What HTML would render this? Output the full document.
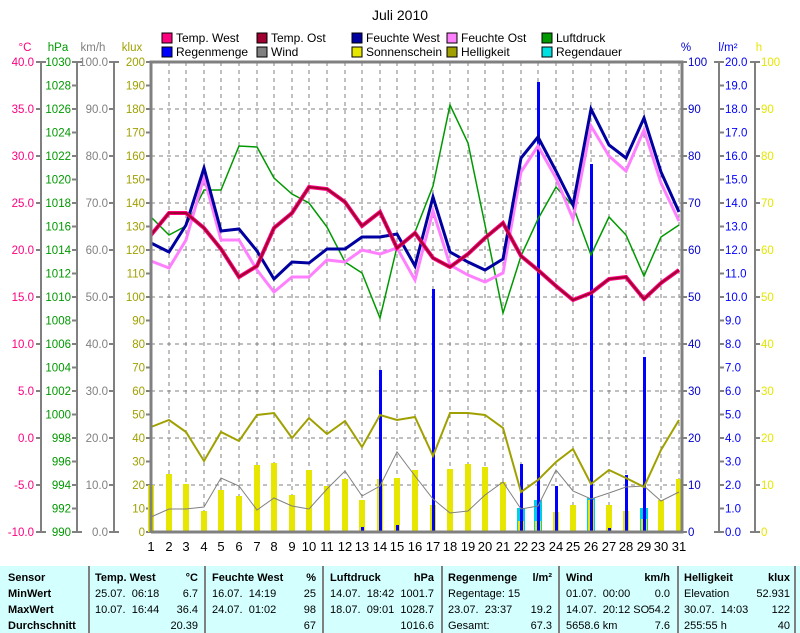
<!DOCTYPE html>
<html><head><meta charset="utf-8"><style>
body{margin:0;background:#fff;width:800px;height:633px;overflow:hidden;font-family:"Liberation Sans",sans-serif}
svg{position:absolute;left:0;top:0}
#tbl{position:absolute;left:0;top:566px;width:800px;height:67px;background:#d4ffff;font-size:11px}
#tbl div{position:absolute;white-space:nowrap}
.b{font-weight:bold}
.sep{width:2px;height:67px;top:0;background:#808080}
</style></head><body>
<svg width="800" height="566" font-family="Liberation Sans, sans-serif" font-size="11.5">
<text x="400" y="20" text-anchor="middle" font-size="14">Juli 2010</text>
<g font-size="12">
<rect x="162" y="33" width="10" height="10" fill="#ff0080" stroke="#000"/><text x="176" y="42">Temp. West</text>
<rect x="162" y="47" width="10" height="10" fill="#0000ff" stroke="#000"/><text x="176" y="56">Regenmenge</text>
<rect x="257" y="33" width="10" height="10" fill="#a00030" stroke="#000"/><text x="271" y="42">Temp. Ost</text>
<rect x="257" y="47" width="10" height="10" fill="#808080" stroke="#000"/><text x="271" y="56">Wind</text>
<rect x="352" y="33" width="10" height="10" fill="#0000a0" stroke="#000"/><text x="366" y="42">Feuchte West</text>
<rect x="352" y="47" width="10" height="10" fill="#e6e600" stroke="#000"/><text x="366" y="56">Sonnenschein</text>
<rect x="447" y="33" width="10" height="10" fill="#ff80ff" stroke="#000"/><text x="461" y="42">Feuchte Ost</text>
<rect x="447" y="47" width="10" height="10" fill="#a0a000" stroke="#000"/><text x="461" y="56">Helligkeit</text>
<rect x="542" y="33" width="10" height="10" fill="#009900" stroke="#000"/><text x="556" y="42">Luftdruck</text>
<rect x="542" y="47" width="10" height="10" fill="#00e0e0" stroke="#000"/><text x="556" y="56">Regendauer</text>
</g>
<text x="25" y="51" fill="#ff0080" text-anchor="middle">°C</text>
<text x="58" y="51" fill="#009900" text-anchor="middle">hPa</text>
<text x="93" y="51" fill="#808080" text-anchor="middle">km/h</text>
<text x="132" y="51" fill="#a0a000" text-anchor="middle">klux</text>
<text x="686" y="51" fill="#0000cc" text-anchor="middle">%</text>
<text x="728" y="51" fill="#0000ff" text-anchor="middle">l/m²</text>
<text x="759" y="51" fill="#e6e600" text-anchor="middle">h</text>
<g stroke="#808080" stroke-width="2" fill="none">
<path d="M41 62V532M77 62V532M114 62V532M719 62V532M755 62V532"/>
<path d="M36 62h10M36 109h5M36 156h5M36 203h5M36 250h5M36 297h5M36 344h5M36 391h5M36 438h5M36 485h5M36 532h10"/>
<path d="M72 62h10M72 85.5h5M72 109h5M72 132.5h5M72 156h5M72 179.5h5M72 203h5M72 226.5h5M72 250h5M72 273.5h5M72 297h5M72 320.5h5M72 344h5M72 367.5h5M72 391h5M72 414.5h5M72 438h5M72 461.5h5M72 485h5M72 508.5h5M72 532h10"/>
<path d="M109 62h10M109 109h5M109 156h5M109 203h5M109 250h5M109 297h5M109 344h5M109 391h5M109 438h5M109 485h5M109 532h10"/>
<path d="M146 62h5M146 85.5h5M146 109h5M146 132.5h5M146 156h5M146 179.5h5M146 203h5M146 226.5h5M146 250h5M146 273.5h5M146 297h5M146 320.5h5M146 344h5M146 367.5h5M146 391h5M146 414.5h5M146 438h5M146 461.5h5M146 485h5M146 508.5h5M146 532h5"/>
<path d="M682 62h5M682 109h5M682 156h5M682 203h5M682 250h5M682 297h5M682 344h5M682 391h5M682 438h5M682 485h5M682 532h5"/>
<path d="M714 62h10M719 85.5h5M719 109h5M719 132.5h5M719 156h5M719 179.5h5M719 203h5M719 226.5h5M719 250h5M719 273.5h5M719 297h5M719 320.5h5M719 344h5M719 367.5h5M719 391h5M719 414.5h5M719 438h5M719 461.5h5M719 485h5M719 508.5h5M714 532h10"/>
<path d="M750 62h10M755 109h5M755 156h5M755 203h5M755 250h5M755 297h5M755 344h5M755 391h5M755 438h5M755 485h5M750 532h10"/>
</g>
<g fill="#ff0080" text-anchor="end">
<text x="34" y="66">40.0</text><text x="34" y="113">35.0</text><text x="34" y="160">30.0</text><text x="34" y="207">25.0</text><text x="34" y="254">20.0</text><text x="34" y="301">15.0</text><text x="34" y="348">10.0</text><text x="34" y="395">5.0</text><text x="34" y="442">0.0</text><text x="34" y="489">-5.0</text><text x="34" y="536">-10.0</text>
</g>
<g fill="#009900" text-anchor="end">
<text x="71" y="66">1030</text><text x="71" y="89.5">1028</text><text x="71" y="113">1026</text><text x="71" y="136.5">1024</text><text x="71" y="160">1022</text><text x="71" y="183.5">1020</text><text x="71" y="207">1018</text><text x="71" y="230.5">1016</text><text x="71" y="254">1014</text><text x="71" y="277.5">1012</text><text x="71" y="301">1010</text><text x="71" y="324.5">1008</text><text x="71" y="348">1006</text><text x="71" y="371.5">1004</text><text x="71" y="395">1002</text><text x="71" y="418.5">1000</text><text x="71" y="442">998</text><text x="71" y="465.5">996</text><text x="71" y="489">994</text><text x="71" y="512.5">992</text><text x="71" y="536">990</text>
</g>
<g fill="#808080" text-anchor="end">
<text x="108" y="66">100.0</text><text x="108" y="113">90.0</text><text x="108" y="160">80.0</text><text x="108" y="207">70.0</text><text x="108" y="254">60.0</text><text x="108" y="301">50.0</text><text x="108" y="348">40.0</text><text x="108" y="395">30.0</text><text x="108" y="442">20.0</text><text x="108" y="489">10.0</text><text x="108" y="536">0.0</text>
</g>
<g fill="#a0a000" text-anchor="end">
<text x="145" y="66">200</text><text x="145" y="89.5">190</text><text x="145" y="113">180</text><text x="145" y="136.5">170</text><text x="145" y="160">160</text><text x="145" y="183.5">150</text><text x="145" y="207">140</text><text x="145" y="230.5">130</text><text x="145" y="254">120</text><text x="145" y="277.5">110</text><text x="145" y="301">100</text><text x="145" y="324.5">90</text><text x="145" y="348">80</text><text x="145" y="371.5">70</text><text x="145" y="395">60</text><text x="145" y="418.5">50</text><text x="145" y="442">40</text><text x="145" y="465.5">30</text><text x="145" y="489">20</text><text x="145" y="512.5">10</text><text x="145" y="536">0</text>
</g>
<g fill="#0000cc">
<text x="688" y="66">100</text><text x="688" y="113">90</text><text x="688" y="160">80</text><text x="688" y="207">70</text><text x="688" y="254">60</text><text x="688" y="301">50</text><text x="688" y="348">40</text><text x="688" y="395">30</text><text x="688" y="442">20</text><text x="688" y="489">10</text><text x="688" y="536">0</text>
</g>
<g fill="#0000ff">
<text x="725" y="66">20.0</text><text x="725" y="89.5">19.0</text><text x="725" y="113">18.0</text><text x="725" y="136.5">17.0</text><text x="725" y="160">16.0</text><text x="725" y="183.5">15.0</text><text x="725" y="207">14.0</text><text x="725" y="230.5">13.0</text><text x="725" y="254">12.0</text><text x="725" y="277.5">11.0</text><text x="725" y="301">10.0</text><text x="725" y="324.5">9.0</text><text x="725" y="348">8.0</text><text x="725" y="371.5">7.0</text><text x="725" y="395">6.0</text><text x="725" y="418.5">5.0</text><text x="725" y="442">4.0</text><text x="725" y="465.5">3.0</text><text x="725" y="489">2.0</text><text x="725" y="512.5">1.0</text><text x="725" y="536">0.0</text>
</g>
<g fill="#e6e600">
<text x="761" y="66">100</text><text x="761" y="113">90</text><text x="761" y="160">80</text><text x="761" y="207">70</text><text x="761" y="254">60</text><text x="761" y="301">50</text><text x="761" y="348">40</text><text x="761" y="395">30</text><text x="761" y="442">20</text><text x="761" y="489">10</text><text x="761" y="536">0</text>
</g>
<g stroke="#808080" stroke-width="1" stroke-dasharray="4,4" fill="none">
<path d="M151 109H682M151 156H682M151 203H682M151 250H682M151 297H682M151 344H682M151 391H682M151 438H682M151 485H682"/>
<path d="M169 62V532M186 62V532M204 62V532M221 62V532M239 62V532M257 62V532M274 62V532M292 62V532M309 62V532M327 62V532M345 62V532M362 62V532M380 62V532M397 62V532M415 62V532M433 62V532M450 62V532M468 62V532M485 62V532M503 62V532M521 62V532M538 62V532M556 62V532M573 62V532M591 62V532M609 62V532M626 62V532M644 62V532M661 62V532M679 62V532"/>
</g>
<g fill="#00d0e0">
<rect x="517" y="508" width="8" height="24"/><rect x="534" y="500" width="8" height="32"/><rect x="587" y="498" width="8" height="34"/><rect x="640" y="508" width="8" height="24"/>
</g>
<g fill="#e6e600">
<rect x="148" y="485" width="6" height="47"/><rect x="166" y="474" width="6" height="58"/><rect x="183" y="484" width="6" height="48"/><rect x="201" y="511" width="6" height="21"/><rect x="218" y="490" width="6" height="42"/><rect x="236" y="496" width="6" height="36"/><rect x="254" y="465" width="6" height="67"/><rect x="271" y="463" width="6" height="69"/><rect x="289" y="495" width="6" height="37"/><rect x="306" y="470" width="6" height="62"/><rect x="324" y="486" width="6" height="46"/><rect x="342" y="479" width="6" height="53"/><rect x="359" y="500" width="6" height="32"/><rect x="377" y="479" width="6" height="53"/><rect x="394" y="478" width="6" height="54"/><rect x="412" y="470" width="6" height="62"/><rect x="430" y="505" width="6" height="27"/><rect x="447" y="469" width="6" height="63"/><rect x="465" y="464" width="6" height="68"/><rect x="482" y="467" width="6" height="65"/><rect x="500" y="482" width="6" height="50"/><rect x="518" y="521" width="6" height="11"/><rect x="535" y="521" width="6" height="11"/><rect x="553" y="512" width="6" height="20"/><rect x="570" y="505" width="6" height="27"/><rect x="588" y="500" width="6" height="32"/><rect x="606" y="505" width="6" height="27"/><rect x="623" y="511" width="6" height="21"/><rect x="641" y="519" width="6" height="13"/><rect x="658" y="500" width="6" height="32"/><rect x="676" y="479" width="6" height="53"/>
</g>
<g fill="#0000ff">
<rect x="361" y="527" width="3" height="5"/><rect x="379" y="370" width="3" height="162"/><rect x="396" y="525" width="3" height="7"/><rect x="432" y="289" width="3" height="243"/><rect x="520" y="464" width="3" height="68"/><rect x="537" y="82" width="3" height="450"/><rect x="555" y="486" width="3" height="46"/><rect x="590" y="164" width="3" height="368"/><rect x="608" y="528" width="3" height="4"/><rect x="625" y="475" width="3" height="57"/><rect x="643" y="357" width="3" height="175"/>
</g>
<polyline fill="none" stroke="#808080" stroke-width="1" points="151,517 169,509 186,509 204,507 221,478 239,486 257,510 274,498 292,506 309,509 327,489 345,471 362,496 380,486 397,452 415,476 433,499 450,513 468,511 485,495 503,482 521,509 538,506 556,470 573,491 591,499 609,493 626,487 644,486 661,501 679,492"/>
<polyline fill="none" stroke="#a0a000" stroke-width="2" points="151,427 169,420 186,432 204,461 221,432 239,441 257,415 274,413 292,438 309,418 327,434 345,421 362,447 380,415 397,420 415,417 433,456 450,413 468,413 485,415 503,428 521,492 538,480 556,462 573,449 591,484 609,470 626,478 644,487 661,450 679,420"/>
<polyline fill="none" stroke="#009900" stroke-width="1.5" points="151,217 169,235 186,226 204,190 221,190 239,146 257,147 274,178 292,194 309,203 327,227 345,262 362,273 380,318 397,247 415,232 433,186 450,105 468,143 485,225 503,313 521,256 538,219 556,187 573,206 591,255 609,217 626,235 644,276 661,237 679,225"/>
<polyline fill="none" stroke="#ff80ff" stroke-width="3" points="151,261 169,268 186,240 204,177 221,240 239,240 257,270 274,292 292,277 309,277 327,260 345,262 362,250 380,254 397,248 415,280 433,211 450,265 468,275 485,282 503,273 521,172 538,146 556,178 573,219 591,126 609,156 626,171 644,130 661,183 679,221"/>
<polyline fill="none" stroke="#0000a0" stroke-width="3" points="151,243 169,252 186,225 204,168 221,231 239,229 257,251 274,279 292,262 309,263 327,249 345,249 362,237 380,237 397,234 415,266 433,197 450,252 468,262 485,270 503,259 521,158 538,137 556,171 573,205 591,109 609,145 626,158 644,118 661,172 679,212"/>
<polyline fill="none" stroke="#ff0080" stroke-width="4" points="151,235 169,213 186,213 204,228 221,249 239,277 257,266 274,228 292,213 309,187 327,189 345,202 362,226 380,212 397,248 415,233 433,258 450,267 468,254 485,238 503,223 521,256 538,270 556,286 573,300 591,293 609,279 626,277 644,299 661,283 679,270"/>
<polyline fill="none" stroke="#a00030" stroke-width="2" points="151,235 169,213 186,213 204,228 221,249 239,277 257,266 274,228 292,213 309,187 327,189 345,202 362,226 380,212 397,248 415,233 433,258 450,267 468,254 485,238 503,223 521,256 538,270 556,286 573,300 591,293 609,279 626,277 644,299 661,283 679,270"/>
<path d="M151 532V62H682V532H151" fill="none" stroke="#808080" stroke-width="3"/>
<g font-size="13" text-anchor="middle">
<text x="151" y="551">1</text><text x="169" y="551">2</text><text x="186" y="551">3</text><text x="204" y="551">4</text><text x="221" y="551">5</text><text x="239" y="551">6</text><text x="257" y="551">7</text><text x="274" y="551">8</text><text x="292" y="551">9</text><text x="309" y="551">10</text><text x="327" y="551">11</text><text x="345" y="551">12</text><text x="362" y="551">13</text><text x="380" y="551">14</text><text x="397" y="551">15</text><text x="415" y="551">16</text><text x="433" y="551">17</text><text x="450" y="551">18</text><text x="468" y="551">19</text><text x="485" y="551">20</text><text x="503" y="551">21</text><text x="521" y="551">22</text><text x="538" y="551">23</text><text x="556" y="551">24</text><text x="573" y="551">25</text><text x="591" y="551">26</text><text x="609" y="551">27</text><text x="626" y="551">28</text><text x="644" y="551">29</text><text x="661" y="551">30</text><text x="679" y="551">31</text>
</g>
</svg>
<div id="tbl">
<div class="sep" style="left:88px"></div><div class="sep" style="left:204px"></div><div class="sep" style="left:322px"></div><div class="sep" style="left:441px"></div><div class="sep" style="left:558px"></div><div class="sep" style="left:677px"></div><div class="sep" style="left:794px"></div>
<div class="b" style="left:8px;top:6px">Sensor</div><div class="b" style="left:8px;top:22px">MinWert</div><div class="b" style="left:8px;top:38px">MaxWert</div><div class="b" style="left:8px;top:54px">Durchschnitt</div>
<div class="b" style="left:95px;top:6px">Temp. West</div><div class="b" style="right:602px;top:6px">°C</div>
<div style="left:95px;top:22px">25.07.&nbsp; 06:18</div><div style="right:602px;top:22px">6.7</div>
<div style="left:95px;top:38px">10.07.&nbsp; 16:44</div><div style="right:602px;top:38px">36.4</div>
<div style="right:602px;top:54px">20.39</div>
<div class="b" style="left:212px;top:6px">Feuchte West</div><div class="b" style="right:484px;top:6px">%</div>
<div style="left:212px;top:22px">16.07.&nbsp; 14:19</div><div style="right:484px;top:22px">25</div>
<div style="left:212px;top:38px">24.07.&nbsp; 01:02</div><div style="right:484px;top:38px">98</div>
<div style="right:484px;top:54px">67</div>
<div class="b" style="left:330px;top:6px">Luftdruck</div><div class="b" style="right:366px;top:6px">hPa</div>
<div style="left:330px;top:22px">14.07.&nbsp; 18:42</div><div style="right:366px;top:22px">1001.7</div>
<div style="left:330px;top:38px">18.07.&nbsp; 09:01</div><div style="right:366px;top:38px">1028.7</div>
<div style="right:366px;top:54px">1016.6</div>
<div class="b" style="left:448px;top:6px">Regenmenge</div><div class="b" style="right:248px;top:6px">l/m²</div>
<div style="left:448px;top:22px">Regentage: 15</div>
<div style="left:448px;top:38px">23.07.&nbsp; 23:37</div><div style="right:248px;top:38px">19.2</div>
<div style="left:448px;top:54px">Gesamt:</div><div style="right:248px;top:54px">67.3</div>
<div class="b" style="left:566px;top:6px">Wind</div><div class="b" style="right:130px;top:6px">km/h</div>
<div style="left:566px;top:22px">01.07.&nbsp; 00:00</div><div style="right:130px;top:22px">0.0</div>
<div style="left:566px;top:38px">14.07.&nbsp; 20:12 SO</div><div style="right:130px;top:38px">54.2</div>
<div style="left:566px;top:54px">5658.6 km</div><div style="right:130px;top:54px">7.6</div>
<div class="b" style="left:684px;top:6px">Helligkeit</div><div class="b" style="right:10px;top:6px">klux</div>
<div style="left:684px;top:22px">Elevation</div><div style="right:10px;top:22px">52.931</div>
<div style="left:684px;top:38px">30.07.&nbsp; 14:03</div><div style="right:10px;top:38px">122</div>
<div style="left:684px;top:54px">255:55 h</div><div style="right:10px;top:54px">40</div>
</div>
</body></html>
